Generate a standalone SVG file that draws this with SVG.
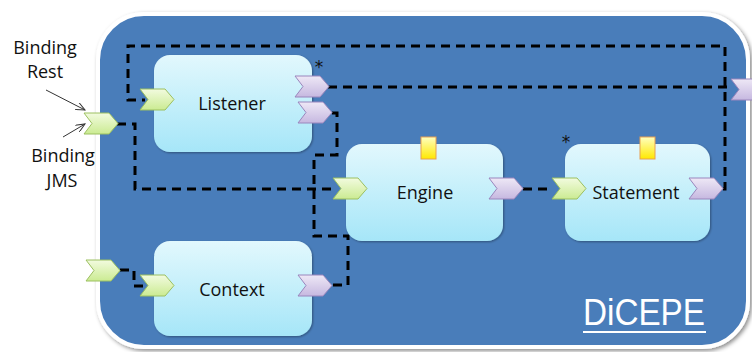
<svg xmlns="http://www.w3.org/2000/svg" width="752" height="352" viewBox="0 0 752 352">
<defs>
<linearGradient id="gBox" x1="0" y1="0" x2="0" y2="1"><stop offset="0" stop-color="#e2f8fd"/><stop offset="1" stop-color="#a6e6f8"/></linearGradient>
<linearGradient id="gGreen" x1="0" y1="0" x2="0" y2="1"><stop offset="0" stop-color="#f2fbdf"/><stop offset="1" stop-color="#cbeb92"/></linearGradient>
<linearGradient id="gPurple" x1="0" y1="0" x2="0" y2="1"><stop offset="0" stop-color="#eee8f6"/><stop offset="1" stop-color="#c6b8e0"/></linearGradient>
<linearGradient id="gYellow" x1="0" y1="0" x2="0" y2="1"><stop offset="0" stop-color="#ffffc0"/><stop offset="1" stop-color="#ffe800"/></linearGradient>
<filter id="sh" x="-10%" y="-10%" width="120%" height="120%"><feDropShadow dx="2" dy="2" stdDeviation="2" flood-color="#000" flood-opacity="0.45"/></filter>
<filter id="sh2" x="-10%" y="-10%" width="120%" height="120%"><feDropShadow dx="1" dy="1" stdDeviation="1.2" flood-color="#000" flood-opacity="0.35"/></filter>
<marker id="arr" markerWidth="10" markerHeight="8" refX="9" refY="4" orient="auto" markerUnits="userSpaceOnUse"><path d="M0,0 L9,4 L0,8" fill="none" stroke="#333" stroke-width="1"/></marker>
<path id="chev" d="M0,0 H25 L34,10.5 L25,21 H0 L8,10.5 Z"/>
</defs>
<style>
.box{fill:url(#gBox);filter:url(#sh2);}
.lbl{font-family:"Open Sans","DejaVu Sans",sans-serif;font-size:18px;fill:#111;text-anchor:middle;}
.side{font-family:"Open Sans","DejaVu Sans",sans-serif;font-size:18px;fill:#111;text-anchor:middle;}
.in{fill:url(#gGreen);stroke:#9cc060;stroke-width:1;}
.out{fill:url(#gPurple);stroke:#9a86bd;stroke-width:1;}
.ylw{fill:url(#gYellow);stroke:#e8a050;stroke-width:1;}
.dash{fill:none;stroke:#000;stroke-width:3;stroke-dasharray:9,6;}
.ast{font-family:"DejaVu Sans",sans-serif;font-size:17px;fill:#111;text-anchor:middle;}
</style>
<rect x="0" y="0" width="752" height="352" fill="#fff"/>
<g id="container">
<rect x="98" y="14" width="650" height="333" rx="46" fill="#4a7dba" stroke="#fff" stroke-width="4" filter="url(#sh)"/>
<text x="644" y="325" font-family="Liberation Sans, Arial, sans-serif" font-size="36" fill="#fff" text-anchor="middle" textLength="122" lengthAdjust="spacingAndGlyphs">DiCEPE</text>
<rect x="583" y="331" width="123" height="2" fill="#fff"/>
</g>
<g id="labels">
<text class="side" x="45" y="54">Binding</text>
<text class="side" x="45" y="78">Rest</text>
<text class="side" x="63" y="162">Binding</text>
<text class="side" x="62" y="187">JMS</text>
<line x1="46" y1="90" x2="85" y2="110" stroke="#333" stroke-width="1" marker-end="url(#arr)"/>
<line x1="63" y1="137" x2="85" y2="124" stroke="#333" stroke-width="1" marker-end="url(#arr)"/>
</g>
<g id="connectors">
<path class="dash" d="M723,189 H725 V46 H128 V100 H145"/>
<path class="dash" d="M328,87 H731"/>
<path class="dash" d="M332,113 H337 V155 H314 V236 H348 V285 H333"/>
<path class="dash" d="M117,124 H135 V189 H335"/>
<path class="dash" d="M120,270 H134 V286 H146"/>
<path class="dash" d="M523,189 H553"/>
</g>
<g id="listener">
<rect class="box" x="154" y="55" width="158" height="97" rx="16"/>
<text class="lbl" x="232" y="110">Listener</text>
<use href="#chev" class="in" x="140" y="89"/>
<use href="#chev" class="out" x="295" y="76"/>
<use href="#chev" class="out" x="298" y="102"/>
<text class="ast" x="319" y="73">*</text>
</g>
<g id="context">
<rect class="box" x="154" y="241" width="158" height="95" rx="16"/>
<text class="lbl" x="232" y="296">Context</text>
<use href="#chev" class="in" x="140" y="275"/>
<use href="#chev" class="out" x="298" y="275"/>
</g>
<g id="engine">
<rect class="box" x="346" y="144" width="157" height="97" rx="16"/>
<text class="lbl" x="425" y="199">Engine</text>
<rect class="ylw" x="421" y="137" width="15" height="22"/>
<use href="#chev" class="in" x="333" y="178"/>
<use href="#chev" class="out" x="489" y="178"/>
</g>
<g id="statement">
<rect class="box" x="565" y="144" width="145" height="97" rx="16"/>
<text class="lbl" x="636" y="199">Statement</text>
<rect class="ylw" x="640" y="137" width="15" height="22"/>
<use href="#chev" class="in" x="552" y="178"/>
<use href="#chev" class="out" x="689" y="178"/>
<text class="ast" x="566" y="148">*</text>
</g>
<g id="ports">
<use href="#chev" class="in" x="84" y="113"/>
<use href="#chev" class="in" x="86" y="260"/>
<use href="#chev" class="out" x="731" y="79"/>
</g>
</svg>
